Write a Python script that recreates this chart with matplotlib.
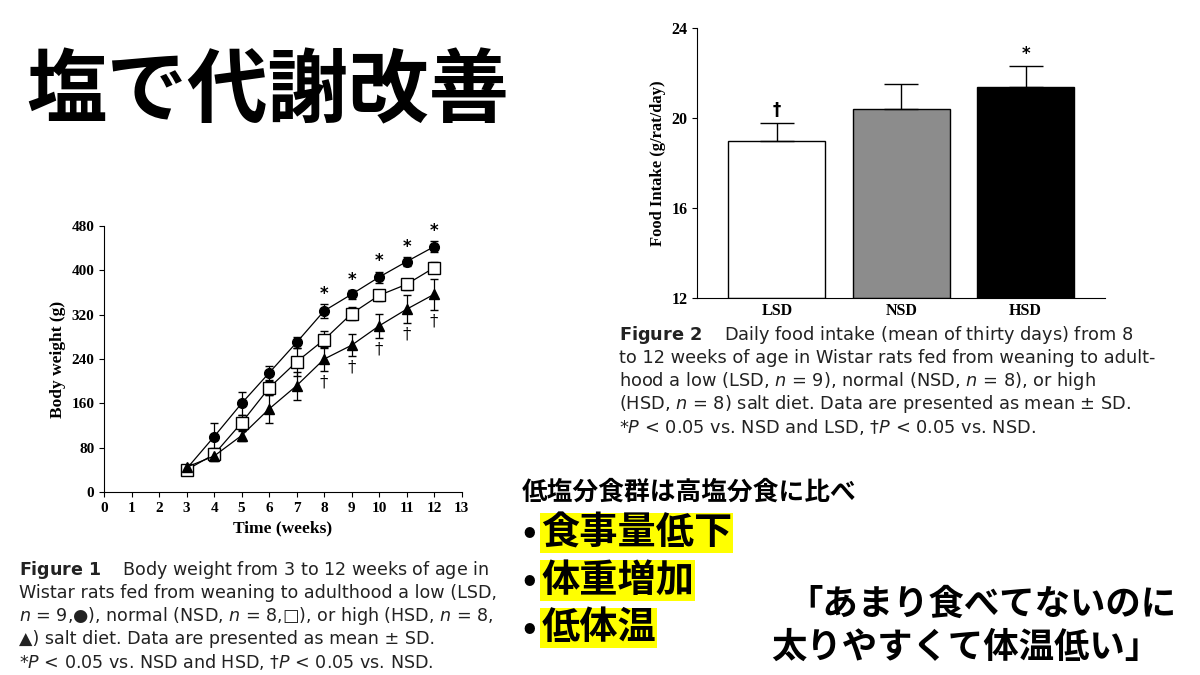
import matplotlib
matplotlib.use("Agg")
import matplotlib.pyplot as plt

weeks = [3, 4, 5, 6, 7, 8, 9, 10, 11, 12]
hsd_w = [42, 100, 160, 215, 270, 327, 357, 388, 416, 443]
hsd_e = [3, 25, 20, 12, 10, 12, 8, 10, 8, 10]
nsd_w = [40, 68, 125, 188, 235, 275, 322, 355, 375, 405]
nsd_e = [3, 12, 15, 12, 25, 15, 12, 10, 10, 10]
lsd_w = [45, 65, 102, 150, 192, 240, 265, 300, 330, 357]
lsd_e = [3, 8, 10, 25, 25, 22, 20, 22, 25, 28]
star_weeks = [8, 9, 10, 11, 12]

groups = ["LSD", "NSD", "HSD"]
intake = [19.0, 20.4, 21.4]
intake_sd = [0.8, 1.1, 0.9]
bar_marks = ["†", "", "*"]

jp = "Noto Sans CJK JP"
serif = "Liberation Serif"

fig = plt.figure(figsize=(12, 6.75), dpi=100)
fig.patch.set_facecolor("white")

fig.text(0.022, 0.862, "塩で代謝改善", fontfamily=jp, fontweight="bold", fontsize=58, va="center")

# Figure 1
ax = fig.add_axes([0.0867, 0.271, 0.298, 0.394])
for y, e, m, fc in [(hsd_w, hsd_e, "o", "black"), (nsd_w, nsd_e, "s", "white"), (lsd_w, lsd_e, "^", "black")]:
    ax.errorbar(weeks, y, yerr=e, color="black", lw=0.9, marker=m, ms=7 if m != "s" else 8,
                mfc=fc, mec="black", capsize=3, elinewidth=0.9)
for w in star_weeks:
    i = weeks.index(w)
    ax.text(w, hsd_w[i] + hsd_e[i] + 2, "*", ha="center", va="bottom", fontsize=12, fontweight="bold")
    ax.text(w, lsd_w[i] - lsd_e[i] - 4, "†", ha="center", va="top", fontsize=12, fontfamily="DejaVu Serif")
ax.set_xlim(0, 13)
ax.set_ylim(0, 480)
ax.set_xticks(range(14))
ax.set_yticks(range(0, 481, 80))
for s in ["top", "right"]:
    ax.spines[s].set_visible(False)
for lab in ax.get_xticklabels() + ax.get_yticklabels():
    lab.set_fontfamily(serif); lab.set_fontweight("bold"); lab.set_fontsize(11)
ax.set_xlabel("Time (weeks)", fontfamily=serif, fontweight="bold", fontsize=12.5)
ax.set_ylabel("Body weight (g)", fontfamily=serif, fontweight="bold", fontsize=12.5)

cap1 = ["$\\bf{Figure\\ 1}$    Body weight from 3 to 12 weeks of age in",
        "Wistar rats fed from weaning to adulthood a low (LSD,",
        "$n$ = 9,●), normal (NSD, $n$ = 8,□), or high (HSD, $n$ = 8,",
        "▲) salt diet. Data are presented as mean ± SD.",
        "*$P$ < 0.05 vs. NSD and HSD, †$P$ < 0.05 vs. NSD."]
for k, t in enumerate(cap1):
    fig.text(0.016, 1 - (570 + 23 * k) / 675, t, fontsize=12.6, va="center", color="#222222")

# Figure 2
bx = fig.add_axes([0.581, 0.5585, 0.34, 0.4])
xs = range(len(groups))
bx.bar(xs, [v - 12 for v in intake], bottom=12, width=0.78, color=["white", "#8c8c8c", "black"],
       edgecolor="black", lw=1)
bx.errorbar(xs, intake, yerr=[[0] * 3, intake_sd], fmt="none", ecolor="black", capsize=12, lw=1)
for x, v, e, m in zip(xs, intake, intake_sd, bar_marks):
    bx.text(x, v + e + 0.15, m, ha="center", va="bottom", fontsize=12, fontweight="bold")
bx.set_xlim(-0.64, 2.64)
bx.set_ylim(12, 24)
bx.set_yticks([12, 16, 20, 24])
bx.set_xticks(list(xs))
bx.set_xticklabels(groups)
for s in ["top", "right"]:
    bx.spines[s].set_visible(False)
bx.tick_params(axis="x", length=0)
for lab in bx.get_xticklabels() + bx.get_yticklabels():
    lab.set_fontfamily(serif); lab.set_fontweight("bold"); lab.set_fontsize(11.5)
bx.set_ylabel("Food Intake (g/rat/day)", fontfamily=serif, fontweight="bold", fontsize=12)

cap2 = ["$\\bf{Figure\\ 2}$    Daily food intake (mean of thirty days) from 8",
        "to 12 weeks of age in Wistar rats fed from weaning to adult-",
        "hood a low (LSD, $n$ = 9), normal (NSD, $n$ = 8), or high",
        "(HSD, $n$ = 8) salt diet. Data are presented as mean ± SD.",
        "*$P$ < 0.05 vs. NSD and LSD, †$P$ < 0.05 vs. NSD."]
for k, t in enumerate(cap2):
    fig.text(0.516, 1 - (335 + 23 * k) / 675, t, fontsize=12.8, va="center", color="#222222")

# Japanese text
fig.text(0.435, 1 - 492 / 675, "低塩分食群は高塩分食に比べ", fontfamily=jp, fontweight="bold",
         fontsize=18.5, va="center")
for k, t in enumerate(["食事量低下", "体重増加", "低体温"]):
    y = 1 - (533 + 47.5 * k) / 675
    fig.text(0.435, y, "•", fontfamily=jp, fontsize=26, va="center", fontweight="bold")
    fig.text(0.451, y, t, fontfamily=jp, fontsize=27.5, va="center", fontweight="bold",
             bbox=dict(facecolor="#ffff00", edgecolor="none", pad=0.5))
fig.text(0.980, 1 - 604 / 675, "「あまり食べてないのに", fontfamily=jp, fontsize=25.5,
         fontweight="bold", va="center", ha="right")
fig.text(0.967, 1 - 647 / 675, "太りやすくて体温低い」", fontfamily=jp, fontsize=25.5,
         fontweight="bold", va="center", ha="right")

fig.savefig("out.png", dpi=100)
